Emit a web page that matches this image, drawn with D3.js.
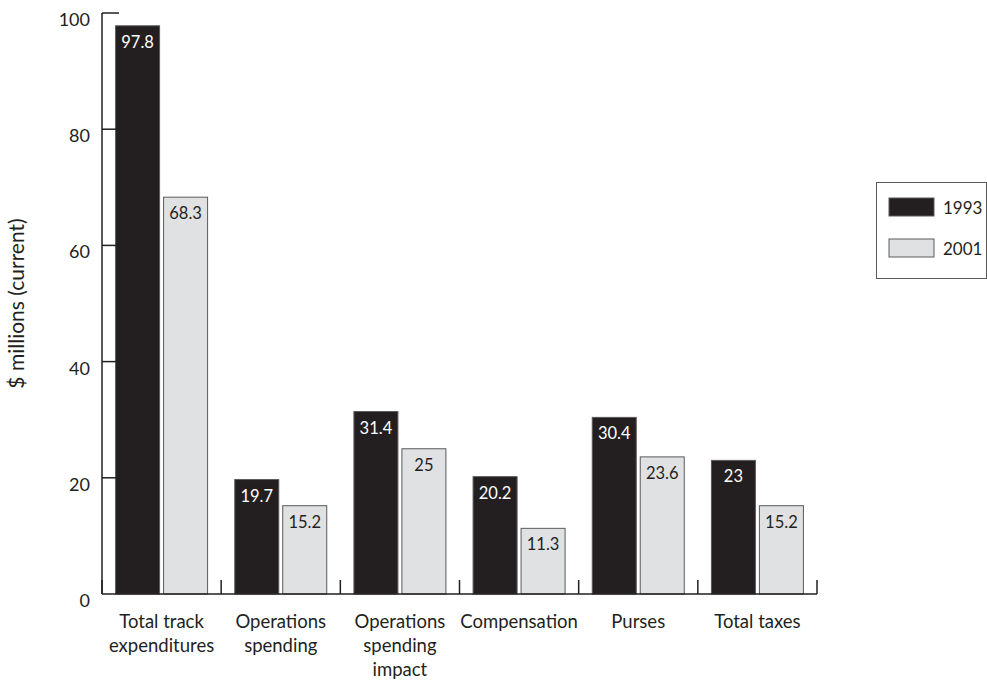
<!DOCTYPE html>
<html>
<head>
<meta charset="utf-8">
<script src="https://cdn.jsdelivr.net/npm/d3@7"></script>
<style>
  body { margin: 0; background: #fff; }
  svg { display: block; font-family: Lato, "Open Sans", sans-serif; }
</style>
</head>
<body>
<div id="chart"></div>
<script>
const width = 987, height = 683;

// data
const categories = [
  ['Total track', 'expenditures'],
  ['Operations', 'spending'],
  ['Operations', 'spending', 'impact'],
  ['Compensation'],
  ['Purses'],
  ['Total taxes']
];
const series = ['1993', '2001'];
const values1993 = [97.8, 19.7, 31.4, 20.2, 30.4, 23];
const values2001 = [68.3, 15.2, 25, 11.3, 23.6, 15.2];
const yTicks = [0, 20, 40, 60, 80, 100];

const colors = { '1993': '#231f20', '2001': '#e0e1e3' };
const labelColors = { '1993': '#fff', '2001': '#231f20' };

const margin = { left: 102, top: 13, right: 170, bottom: 89 };

const svg = d3.select('#chart').append('svg')
  .attr('width', width)
  .attr('height', height);

const x0 = d3.scaleBand()
  .domain(d3.range(categories.length))
  .range([margin.left, 817])
  .padding(0);

const x1 = d3.scaleBand()
  .domain(series)
  .range([0, x0.bandwidth()])
  .paddingInner(0.083)
  .paddingOuter(0.283);

const y = d3.scaleLinear()
  .domain([0, 100])
  .range([594, margin.top]);

const rows = categories.map((c, i) => ({
  i: i,
  vals: [
    { s: '1993', v: values1993[i] },
    { s: '2001', v: values2001[i] }
  ]
}));

// bars
const grp = svg.selectAll('g.cat')
  .data(rows)
  .enter().append('g')
  .attr('class', 'cat')
  .attr('transform', d => `translate(${x0(d.i)},0)`);

grp.selectAll('rect')
  .data(d => d.vals)
  .enter().append('rect')
  .attr('x', d => x1(d.s))
  .attr('y', d => y(d.v))
  .attr('width', x1.bandwidth())
  .attr('height', d => y(0) - y(d.v))
  .attr('fill', d => colors[d.s])
  .attr('stroke', '#5a5a5a')
  .attr('stroke-width', 1);

grp.selectAll('text.val')
  .data(d => d.vals)
  .enter().append('text')
  .attr('class', 'val')
  .attr('x', d => x1(d.s) + x1.bandwidth() / 2)
  .attr('y', d => y(d.v) + 22)
  .attr('text-anchor', 'middle')
  .attr('font-size', 16.5)
  .attr('fill', d => labelColors[d.s])
  .text(d => d.v);

// y axis
svg.append('line')
  .attr('x1', margin.left).attr('x2', margin.left)
  .attr('y1', y(100)).attr('y2', y(0))
  .attr('stroke', '#231f20').attr('stroke-width', 1.5);

svg.selectAll('line.ytick')
  .data(yTicks.filter(t => t > 0))
  .enter().append('line')
  .attr('class', 'ytick')
  .attr('x1', margin.left).attr('x2', margin.left + 17)
  .attr('y1', d => y(d)).attr('y2', d => y(d))
  .attr('stroke', '#231f20').attr('stroke-width', 1.5);

svg.selectAll('text.ylab')
  .data(yTicks)
  .enter().append('text')
  .attr('class', 'ylab')
  .attr('x', 90)
  .attr('y', d => y(d) + 13)
  .attr('text-anchor', 'end')
  .attr('font-size', 18)
  .attr('fill', '#231f20')
  .text(d => d);

svg.append('text')
  .attr('transform', `translate(24,${(y(0) + y(100)) / 2}) rotate(-90)`)
  .attr('text-anchor', 'middle')
  .attr('font-size', 21)
  .attr('fill', '#231f20')
  .text('$ millions (current)');

// x axis
svg.append('line')
  .attr('x1', margin.left).attr('x2', x0.range()[1])
  .attr('y1', y(0)).attr('y2', y(0))
  .attr('stroke', '#231f20').attr('stroke-width', 1.5);

svg.selectAll('line.xtick')
  .data(d3.range(categories.length + 1))
  .enter().append('line')
  .attr('class', 'xtick')
  .attr('x1', d => margin.left + d * x0.step())
  .attr('x2', d => margin.left + d * x0.step())
  .attr('y1', y(0)).attr('y2', y(0) - 14)
  .attr('stroke', '#231f20').attr('stroke-width', 1.5);

const xl = svg.selectAll('text.xlab')
  .data(categories)
  .enter().append('text')
  .attr('class', 'xlab')
  .attr('text-anchor', 'middle')
  .attr('font-size', 18.5)
  .attr('fill', '#231f20');

xl.selectAll('tspan')
  .data((d, i) => d.map(line => ({ line, i })))
  .enter().append('tspan')
  .attr('x', d => x0(d.i) + x0.bandwidth() / 2)
  .attr('y', (d, j) => 628 + j * 24)
  .text(d => d.line);

// legend
const legend = svg.append('g');
legend.append('rect')
  .attr('x', 876.5).attr('y', 182.5)
  .attr('width', 110).attr('height', 96)
  .attr('fill', '#fff')
  .attr('stroke', '#5a5a5a');

const li = legend.selectAll('g.item')
  .data(series)
  .enter().append('g')
  .attr('class', 'item')
  .attr('transform', (d, i) => `translate(889,${198 + i * 41})`);

li.append('rect')
  .attr('width', 45).attr('height', 18)
  .attr('fill', d => colors[d])
  .attr('stroke', '#5a5a5a');

li.append('text')
  .attr('x', 54).attr('y', 16)
  .attr('font-size', 17)
  .attr('fill', '#231f20')
  .text(d => d);
</script>
</body>
</html>
